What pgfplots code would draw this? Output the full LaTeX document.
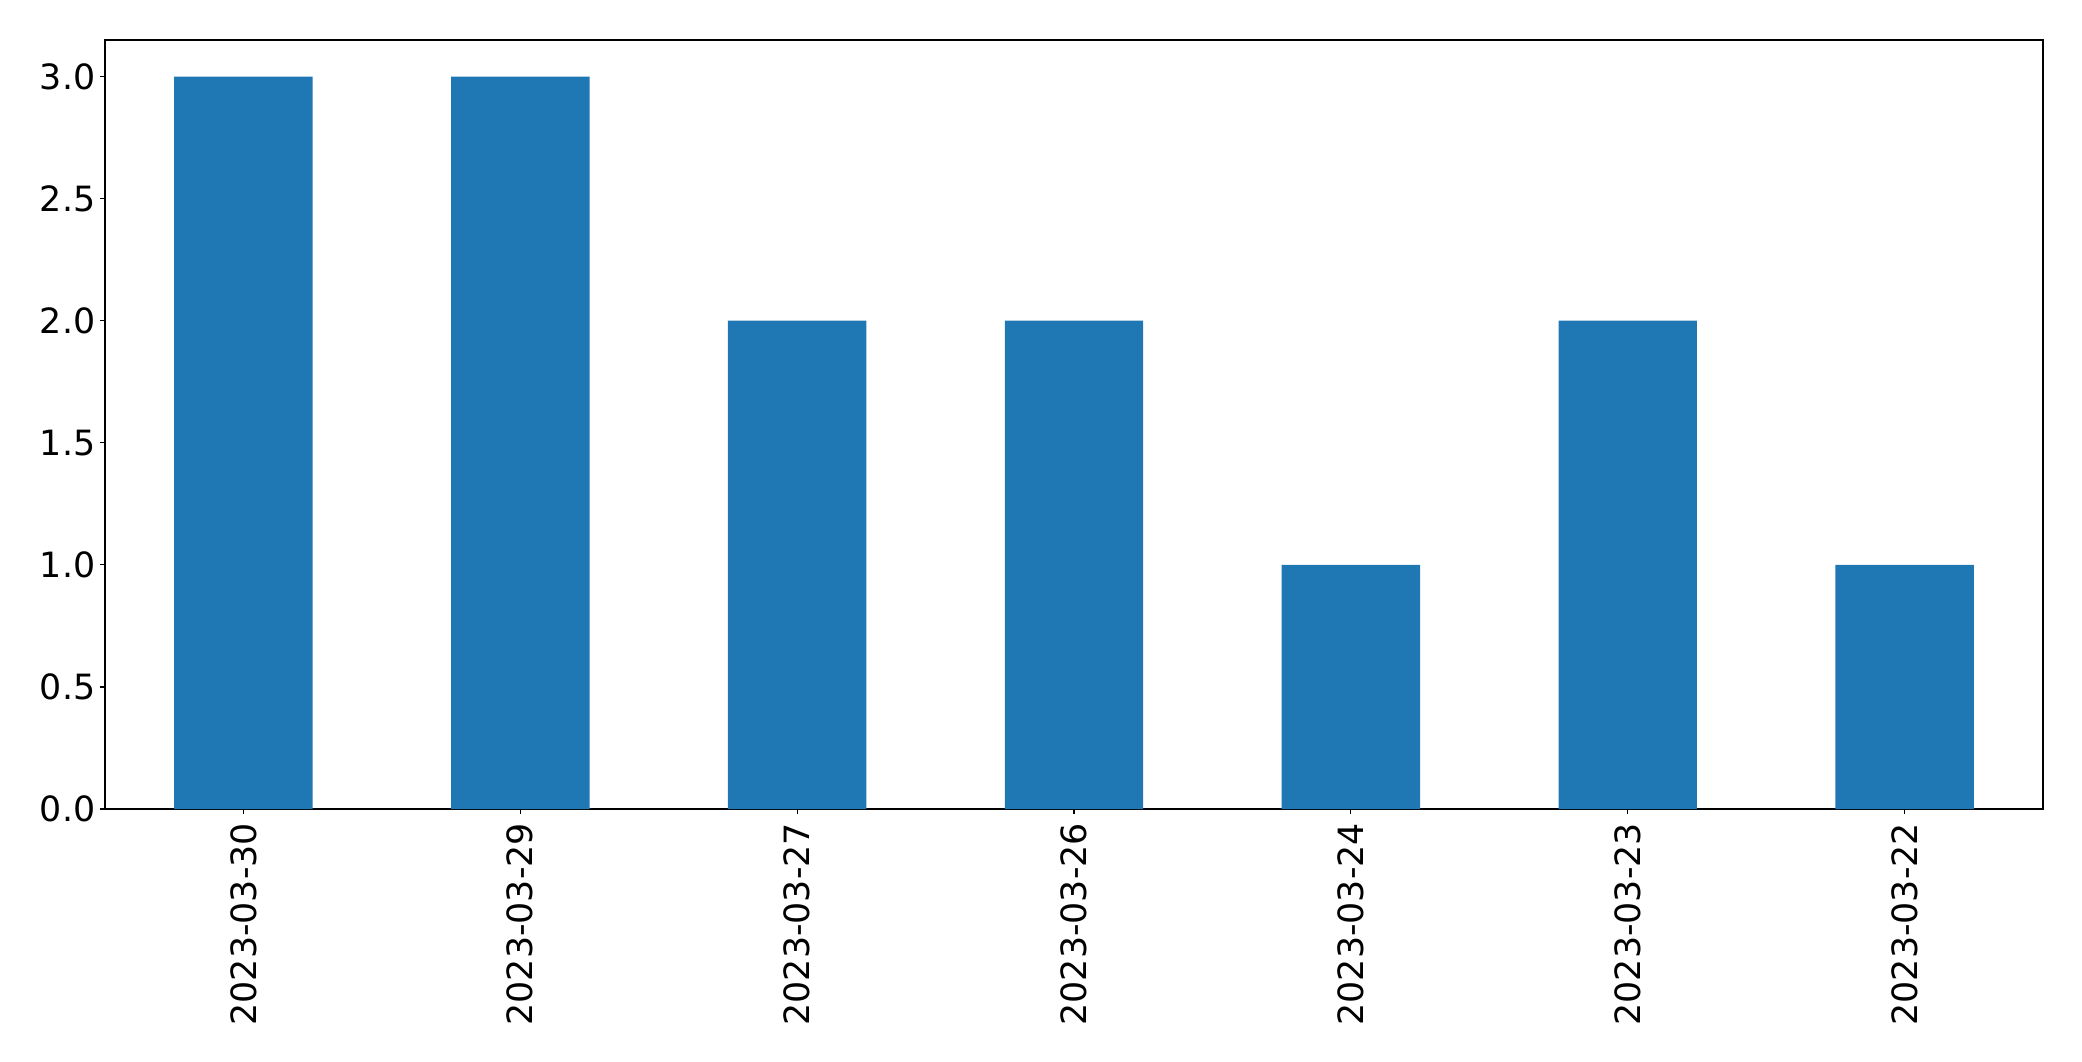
\documentclass[border=0pt]{standalone}
\usepackage{pgfplots}
\pgfplotsset{compat=1.18}
\usepackage{fontspec}
\setmainfont{DejaVu Sans}
\definecolor{barblue}{HTML}{1F77B4}
\begin{document}
\begin{tikzpicture}
\begin{axis}[
  name=ax,
  scale only axis,
  width=969pt, height=384.5pt,
  xmin=-0.5, xmax=6.5, ymin=0, ymax=3.15,
  ybar, bar width=0.5,
  axis line style={black, line width=0.6pt},
  tick style={black, line width=0.6pt},
  tick align=outside,
  major tick length=2.5pt,
  xtick pos=left, ytick pos=left,
  xtick={0,1,2,3,4,5,6},
  xticklabels={2023-03-30,2023-03-29,2023-03-27,2023-03-26,2023-03-24,2023-03-23,2023-03-22},
  ytick={0,0.5,1,1.5,2,2.5,3},
  /pgf/number format/assume math mode=true,
  yticklabel={\pgfmathprintnumber[fixed,fixed zerofill,precision=1]{\tick}},
  ticklabel style={font=\fontsize{17.4}{20}\selectfont},
  xticklabel style={rotate=90, anchor=east, xshift=-1pt},
  yticklabel style={anchor=east, xshift=1.2pt},
]
\addplot[fill=barblue, draw=none] coordinates {(0,3) (1,3) (2,2) (3,2) (4,1) (5,2) (6,1)};
\end{axis}
\path ([shift={(-52.5pt,-126pt)}]ax.south west) rectangle ([shift={(19.5pt,20pt)}]ax.north east);
\end{tikzpicture}
\end{document}
